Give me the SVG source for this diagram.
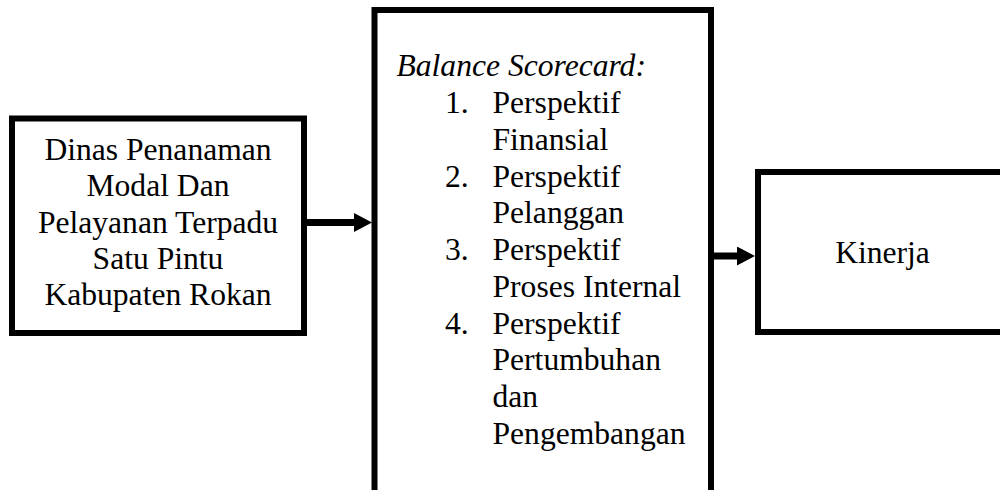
<svg xmlns="http://www.w3.org/2000/svg" width="1000" height="490" viewBox="0 0 1000 490">
<style>
.box{fill:#fff;stroke:#000;stroke-width:6}
.t{font-family:"Liberation Serif","Times New Roman",serif;font-size:31.6px;fill:#000}
.c{text-anchor:middle}
.i{font-style:italic}
.conn{stroke:#000;stroke-width:7;fill:none}
</style>
<defs>
<marker id="ah" markerUnits="userSpaceOnUse" markerWidth="18" markerHeight="19" refX="6" refY="9.5" orient="auto">
<path d="M0,0 L18,9.5 L0,19 z" fill="#000"/>
</marker>
</defs>
<rect width="1000" height="490" fill="#fff"/>
<g id="node-dinas">
<rect class="box" x="12" y="118.5" width="292" height="214.5"/>
<text class="t c" x="158" y="160">Dinas Penanaman</text>
<text class="t c" x="158" y="196.3">Modal Dan</text>
<text class="t c" x="158" y="232.5">Pelayanan Terpadu</text>
<text class="t c" x="158" y="268.8">Satu Pintu</text>
<text class="t c" x="158" y="305">Kabupaten Rokan</text>
</g>
<g id="node-bsc">
<rect class="box" x="374.5" y="10" width="336.5" height="500"/>
<text class="t i" x="396.5" y="76">Balance Scorecard:</text>
<text class="t" x="445" y="113">1.</text>
<text class="t" x="492.5" y="113">Perspektif</text>
<text class="t" x="492.5" y="150">Finansial</text>
<text class="t" x="445" y="186.5">2.</text>
<text class="t" x="492.5" y="186.5">Perspektif</text>
<text class="t" x="492.5" y="223">Pelanggan</text>
<text class="t" x="445" y="260">3.</text>
<text class="t" x="492.5" y="260">Perspektif</text>
<text class="t" x="492.5" y="297">Proses Internal</text>
<text class="t" x="445" y="333.5">4.</text>
<text class="t" x="492.5" y="333.5">Perspektif</text>
<text class="t" x="492.5" y="370">Pertumbuhan</text>
<text class="t" x="492.5" y="407">dan</text>
<text class="t" x="492.5" y="444">Pengembangan</text>
</g>
<g id="node-kinerja">
<rect class="box" x="758" y="172" width="300" height="160"/>
<text class="t c" x="882.5" y="263">Kinerja</text>
</g>
<g id="connectors">
<line class="conn" x1="307" y1="222.5" x2="360" y2="222.5" marker-end="url(#ah)"/>
<line class="conn" x1="713" y1="256" x2="743" y2="256" marker-end="url(#ah)"/>
</g>
</svg>
